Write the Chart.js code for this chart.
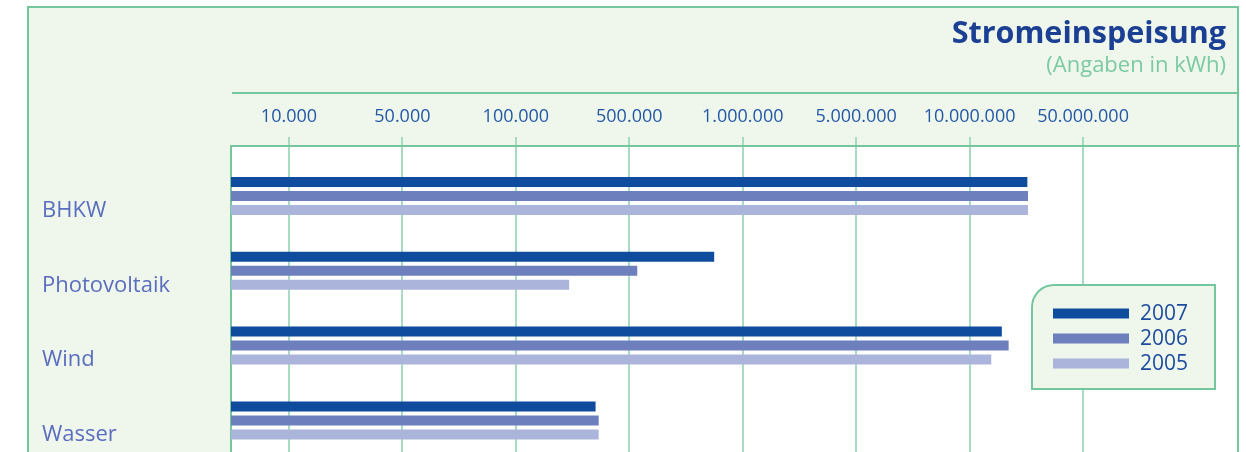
<!DOCTYPE html>
<html>
<head>
<meta charset="utf-8">
<script src="https://cdn.jsdelivr.net/npm/chart.js@4.4.1/dist/chart.umd.min.js"></script>
<style>
  html, body { margin: 0; padding: 0; background: #fff; overflow: hidden; }
  #wrap { width: 1246px; height: 452px; position: relative; }
</style>
</head>
<body>
<div id="wrap"><canvas id="chart"></canvas></div>
<script>
// Stromeinspeisung in kWh
const categories = ['BHKW', 'Photovoltaik', 'Wind', 'Wasser'];
const years = ['2007', '2006', '2005'];
const values2007 = [22700000, 840000, 15800000, 310000];
const values2006 = [22900000, 525000, 17400000, 324000];
const values2005 = [22900000, 213000, 13600000, 324000];

// the axis puts these values at equal steps
const tickValues = [10000, 50000, 100000, 500000, 1000000, 5000000, 10000000, 50000000];
const tickLabels = ['10.000', '50.000', '100.000', '500.000', '1.000.000', '5.000.000', '10.000.000', '50.000.000'];

const green = '#74c69c';
const gridGreen = '#a8dcc2';
const panelBg = '#eff7ec';
const barColors = ['#0f4c9e', '#6e7fbd', '#abb4da'];
const fontFamily = "'Open Sans', 'Noto Sans', sans-serif";

// value in kWh -> position on the stepped axis (log between neighbouring ticks)
function toPos(v) {
    let i = 0;
    while (i < tickValues.length - 2 && v > tickValues[i + 1]) i++;
    const a = tickValues[i], b = tickValues[i + 1];
    return i + Math.log(v / a) / Math.log(b / a);
}

const xMin = -0.511;
const xMax = 8.375;

function series(values) {
    return values.map((v, i) => ({ x: toPos(v), y: i }));
}

const frame = {
    id: 'frame',
    beforeDraw(chart) {
        const { ctx, chartArea: a } = chart;
        ctx.save();
        ctx.fillStyle = panelBg;
        ctx.fillRect(28, 7, 1210, 460);
        ctx.fillStyle = '#ffffff';
        ctx.fillRect(a.left, a.top, a.right - a.left, a.bottom - a.top);

        ctx.strokeStyle = green;
        ctx.lineWidth = 2;
        ctx.beginPath();
        ctx.moveTo(28, 470);
        ctx.lineTo(28, 7);
        ctx.lineTo(1238, 7);
        ctx.lineTo(1238, 470);
        ctx.stroke();
        ctx.beginPath();
        ctx.moveTo(a.left + 1, 93);
        ctx.lineTo(1238, 93);
        ctx.stroke();

        ctx.textAlign = 'right';
        ctx.textBaseline = 'alphabetic';
        ctx.fillStyle = '#1b3f93';
        ctx.font = 'bold 30.5px ' + fontFamily;
        ctx.fillText('Stromeinspeisung', 1226, 43);
        ctx.fillStyle = '#7ccaa2';
        ctx.font = '22px ' + fontFamily;
        ctx.fillText('(Angaben in kWh)', 1226, 72);
        ctx.restore();
    },
    afterDraw(chart) {
        const { ctx } = chart;
        const left = 1032, top = 285, right = 1215, bottom = 389, r = 22;
        ctx.save();
        ctx.beginPath();
        ctx.moveTo(left, bottom);
        ctx.lineTo(left, top + r);
        ctx.arcTo(left, top, left + r, top, r);
        ctx.lineTo(right, top);
        ctx.lineTo(right, bottom);
        ctx.closePath();
        ctx.fillStyle = panelBg;
        ctx.fill();
        ctx.strokeStyle = green;
        ctx.lineWidth = 2;
        ctx.stroke();

        ctx.font = '21px ' + fontFamily;
        ctx.textAlign = 'left';
        ctx.textBaseline = 'middle';
        chart.data.datasets.forEach((ds, i) => {
            const cy = 313.5 + i * 25;
            ctx.fillStyle = ds.backgroundColor;
            ctx.fillRect(1053, cy - 5, 76, 10);
            ctx.fillStyle = '#1d4c9e';
            ctx.fillText(ds.label, 1140, cy + 0.5);
        });
        ctx.restore();
    }
};

const ctx = document.getElementById('chart').getContext('2d');
new Chart(ctx, {
    type: 'bar',
    data: {
        datasets: [
            { label: years[0], data: series(values2007), backgroundColor: barColors[0] },
            { label: years[1], data: series(values2006), backgroundColor: barColors[1] },
            { label: years[2], data: series(values2005), backgroundColor: barColors[2] }
        ]
    },
    options: {
        indexAxis: 'y',
        responsive: true,
        maintainAspectRatio: false,
        animation: false,
        datasets: {
            bar: {
                base: xMin,
                categoryPercentage: 42 / 74.8,
                barPercentage: 10 / 14,
                borderWidth: 0
            }
        },
        layout: {
            padding: { left: 42, right: 7, top: 0, bottom: 0 }
        },
        plugins: {
            legend: { display: false },
            tooltip: { enabled: false },
            title: { display: false }
        },
        scales: {
            x: {
                type: 'linear',
                position: 'top',
                min: xMin,
                max: xMax,
                afterBuildTicks: (axis) => {
                    axis.ticks = tickValues.map((v, i) => ({ value: i }));
                },
                afterFit: (axis) => {
                    axis.height = 146;
                    axis.paddingLeft = 0;
                    axis.paddingRight = 0;
                },
                grid: {
                    color: gridGreen,
                    lineWidth: 2,
                    drawTicks: true,
                    tickLength: 9
                },
                border: { display: true, color: green, width: 2 },
                ticks: {
                    callback: (v) => tickLabels[v],
                    color: '#2458a6',
                    font: { family: fontFamily, size: 18 },
                    padding: 9,
                    maxRotation: 0,
                    autoSkip: false
                }
            },
            y: {
                type: 'linear',
                reverse: true,
                offset: false,
                min: -0.668,
                max: 3.422,
                afterBuildTicks: (axis) => {
                    axis.ticks = categories.map((c, i) => ({ value: i }));
                },
                afterFit: (axis) => {
                    axis.width = 189;
                    axis.paddingTop = 0;
                    axis.paddingBottom = 0;
                },
                grid: { display: false },
                border: { display: true, color: green, width: 2 },
                ticks: {
                    callback: (v) => categories[v],
                    color: '#5b6dbf',
                    font: { family: fontFamily, size: 22 },
                    crossAlign: 'far',
                    labelOffset: 14.5,
                    autoSkip: false
                }
            }
        }
    },
    plugins: [frame]
});
</script>
</body>
</html>
